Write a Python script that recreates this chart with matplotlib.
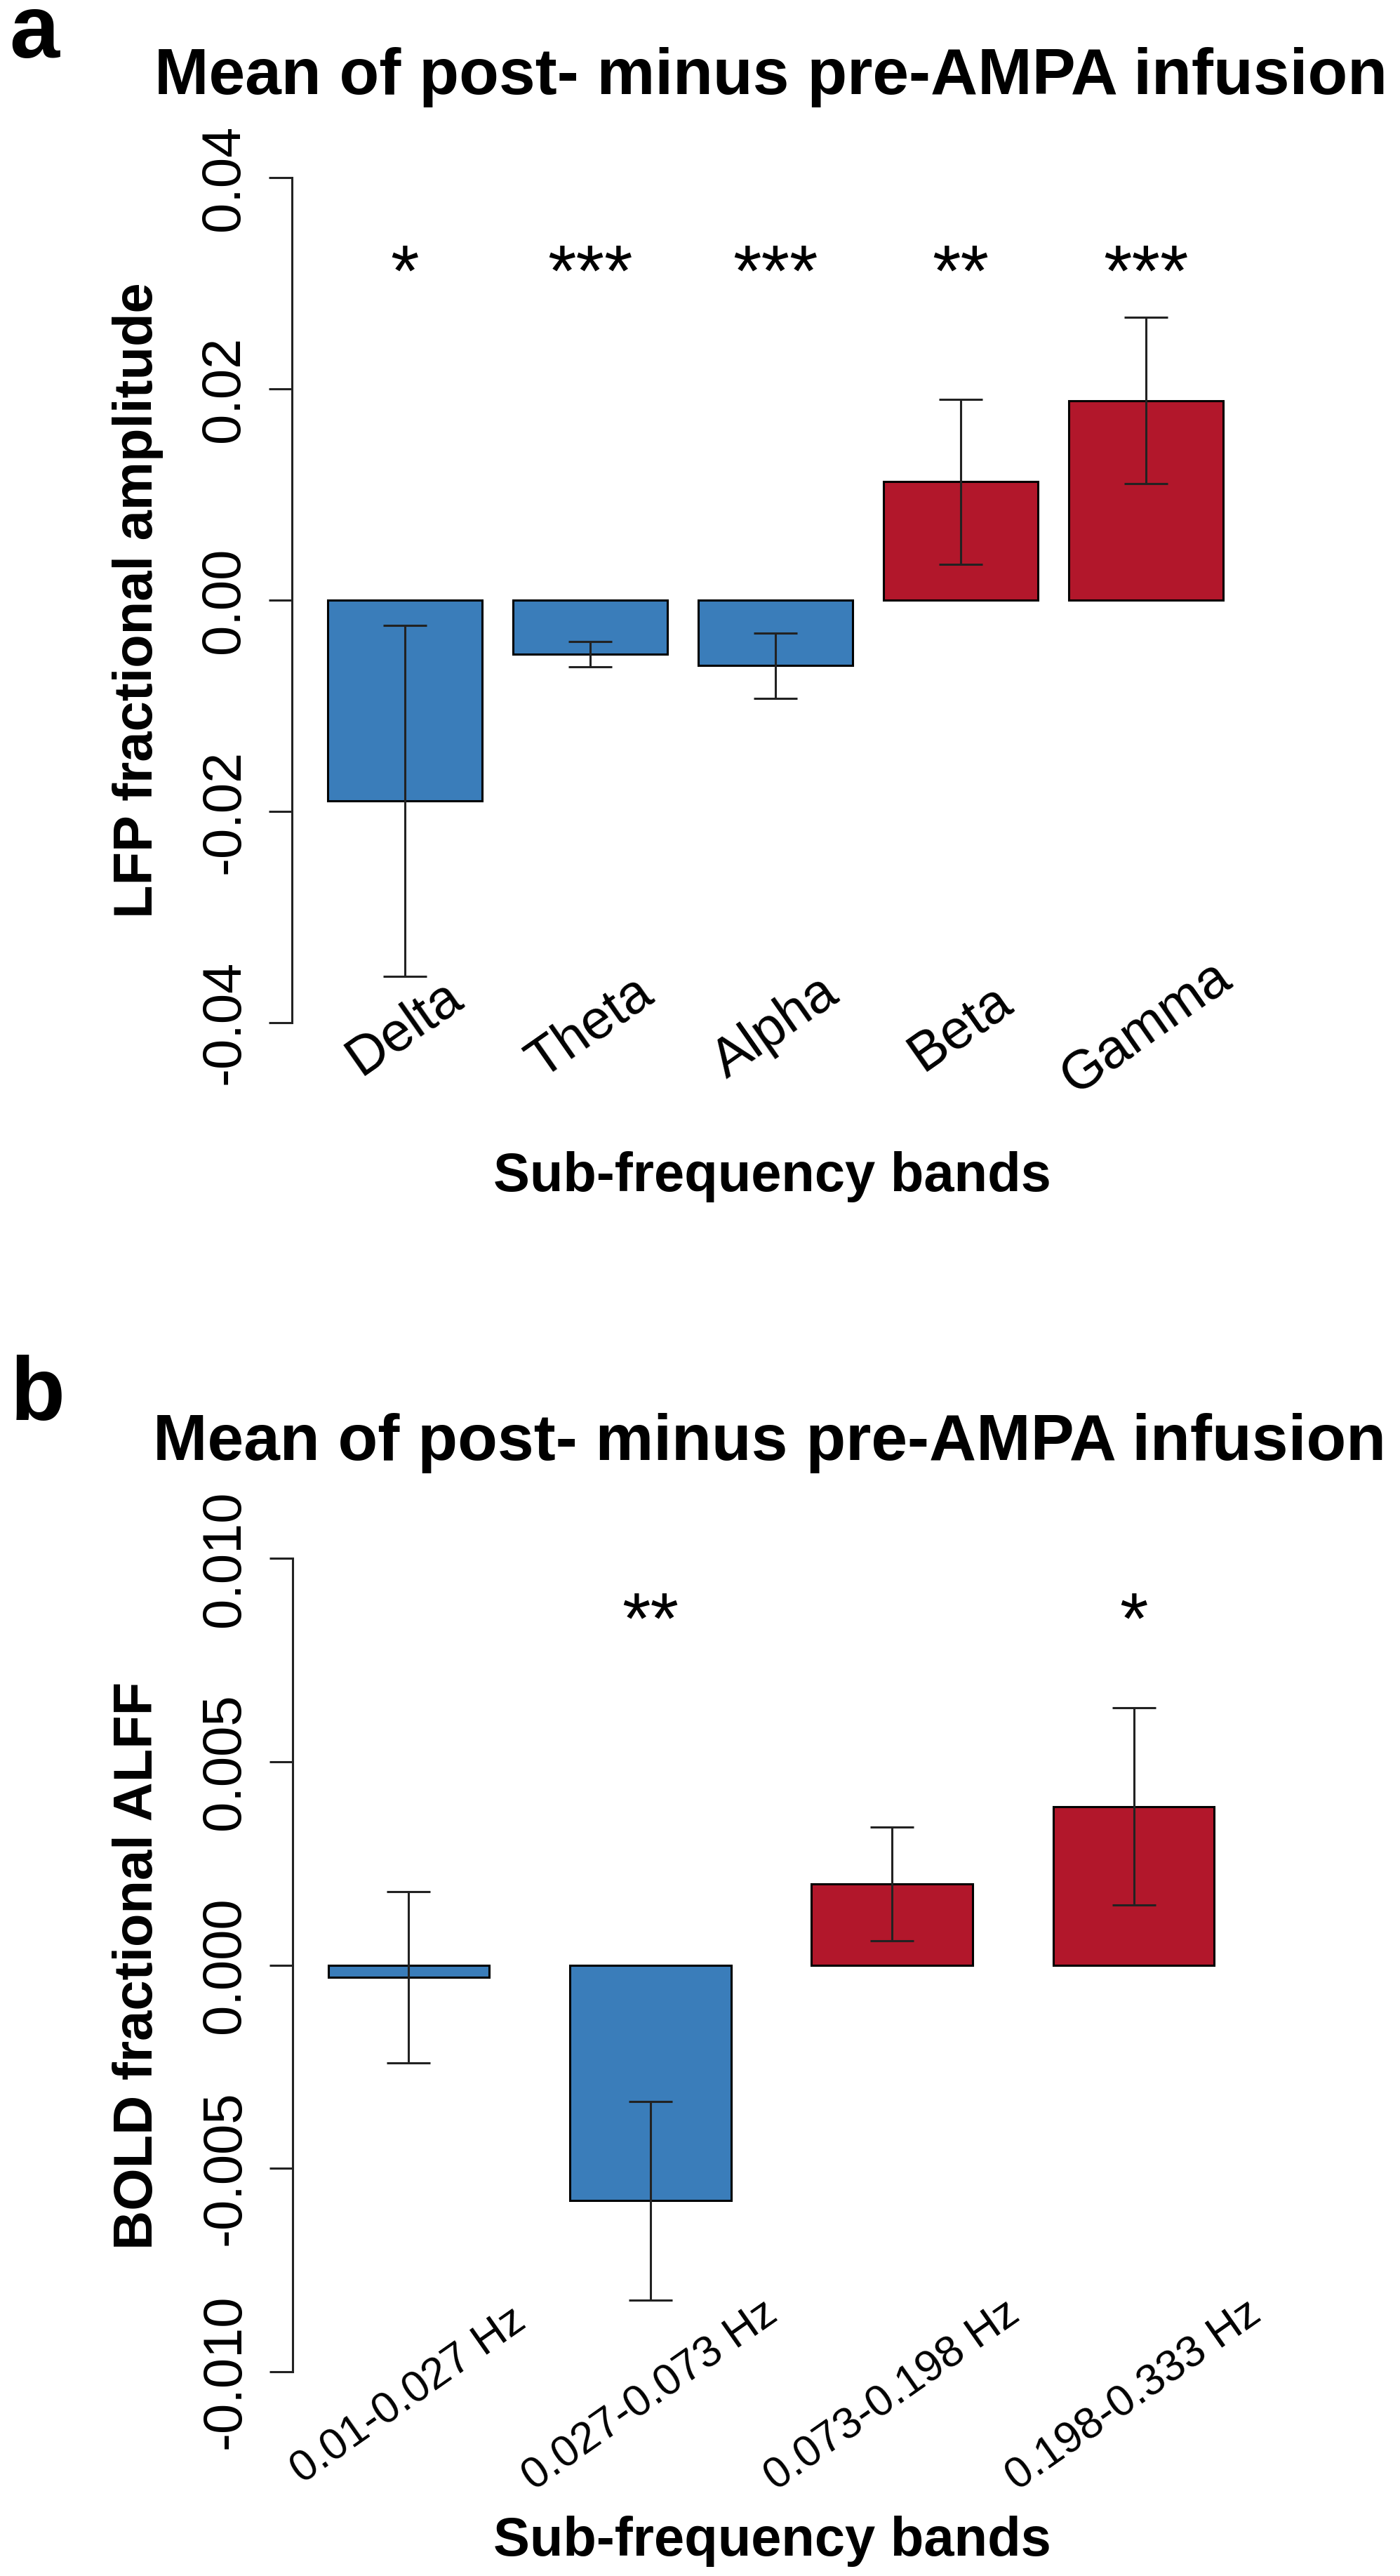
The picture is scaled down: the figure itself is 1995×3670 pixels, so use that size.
import matplotlib
matplotlib.use('Agg')
import matplotlib.pyplot as plt
import numpy as np

plt.rcParams['font.family'] = ['Liberation Sans', 'DejaVu Sans']
plt.rcParams['axes.unicode_minus'] = False

# panel a: LFP
bands_a = ['Delta', 'Theta', 'Alpha', 'Beta', 'Gamma']
mean_a = [-0.0190, -0.0051, -0.0062, 0.0112, 0.0189]
sem_a = [0.0166, 0.0012, 0.0031, 0.0078, 0.0079]
stars_a = ['*', '***', '***', '**', '***']
yticks_a = [-0.04, -0.02, 0.00, 0.02, 0.04]

# panel b: BOLD
bands_b = ['0.01-0.027 Hz', '0.027-0.073 Hz', '0.073-0.198 Hz', '0.198-0.333 Hz']
mean_b = [-0.0003, -0.0058, 0.0020, 0.0039]
sem_b = [0.0021, 0.00245, 0.0014, 0.00243]
stars_b = ['', '**', '', '*']
yticks_b = [-0.010, -0.005, 0.000, 0.005, 0.010]

title = 'Mean of post- minus pre-AMPA infusion'
blue = '#3A7DBA'
red = '#B2172B'
W, H = 1995, 3670


def fx(px):
    return px / W


def fy(py):
    return 1 - py / H


def panel(ax, labels, means, sems, stars, yticks, fmt, space, ylim, lab_y, lab_size, star_y):
    n = len(means)
    x = 0.5 + space + np.arange(n) * (1 + space)
    cols = [red if m > 0 else blue for m in means]
    ax.bar(x, means, width=1, color=cols, edgecolor='black', linewidth=2.2)
    ax.errorbar(x, means, yerr=sems, fmt='none', ecolor='#222222',
                elinewidth=2.2, capsize=22, capthick=2.2)
    ext = 0.04 * (x[-1] + 0.5 - (x[0] - 0.5))
    ax.set_xlim(x[0] - 0.5 - ext, x[-1] + 0.5 + ext)
    ax.set_ylim(ylim[0] * 1.08, ylim[1] * 1.08)
    for s in ['top', 'right', 'bottom']:
        ax.spines[s].set_visible(False)
    ax.spines['left'].set_bounds(ylim[0], ylim[1])
    ax.spines['left'].set_linewidth(2.2)
    ax.spines['left'].set_color('#222222')
    ax.set_xticks([])
    ax.set_yticks(yticks)
    ax.set_yticklabels([fmt % t for t in yticks], rotation=90, va='center')
    ax.tick_params(axis='y', length=24, width=2.2, pad=19, labelsize=56, color='#222222')
    for xi, lab in zip(x, labels):
        ax.text(xi, lab_y, lab, rotation=35, rotation_mode='anchor', ha='center',
                va='center', fontsize=lab_size, clip_on=False)
    for xi, st in zip(x, stars):
        ax.text(xi, star_y, st, ha='center', va='baseline', fontsize=75)


fig = plt.figure(figsize=(W / 100, H / 100), dpi=100)

ax1 = fig.add_axes([fx(416), fy(1505), fx(1378), 1300 / H])
panel(ax1, bands_a, mean_a, sem_a, stars_a, yticks_a, '%.2f', 0.2, (-0.04, 0.04),
      -0.0405, 56, 0.0288)

ax2 = fig.add_axes([fx(417), fy(3425), fx(1364), 1251 / H])
panel(ax2, bands_b, mean_b, sem_b, stars_b, yticks_b, '%.3f', 0.5, (-0.01, 0.01),
      -0.0106, 45, 0.0079)

fig.text(fx(13), fy(82), 'a', fontsize=92, fontweight='bold', ha='left', va='baseline')
fig.text(fx(15), fy(2023), 'b', fontsize=92, fontweight='bold', ha='left', va='baseline')
fig.text(fx(1099), fy(134), title, fontsize=67, fontweight='bold', ha='center', va='baseline')
fig.text(fx(1097), fy(2080), title, fontsize=67, fontweight='bold', ha='center', va='baseline')

fig.text(fx(217), fy(855), 'LFP fractional amplitude', fontsize=56, fontweight='bold',
         rotation=90, rotation_mode='anchor', ha='center', va='baseline')
fig.text(fx(217), fy(2800), 'BOLD fractional ALFF', fontsize=56, fontweight='bold',
         rotation=90, rotation_mode='anchor', ha='center', va='baseline')
fig.text(fx(1100), fy(1697), 'Sub-frequency bands', fontsize=56, fontweight='bold',
         ha='center', va='baseline')
fig.text(fx(1100), fy(3641), 'Sub-frequency bands', fontsize=56, fontweight='bold',
         ha='center', va='baseline')

fig.savefig('out.png', dpi=100)
